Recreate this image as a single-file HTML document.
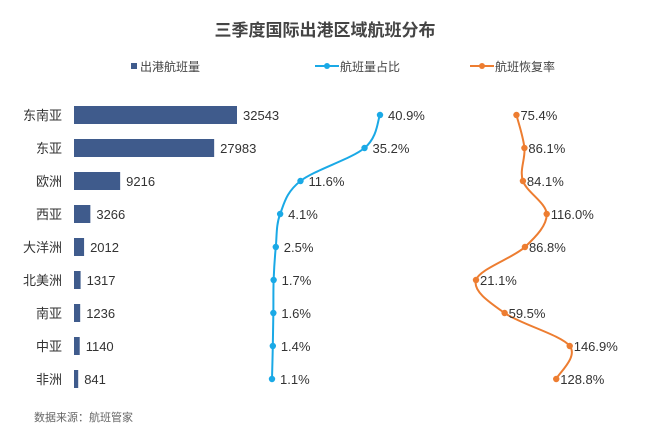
<!DOCTYPE html>
<html><head><meta charset="utf-8"><style>
body{margin:0;background:#fff;}
svg{display:block;font-family:"Liberation Sans","Noto Sans CJK SC",sans-serif;}
</style></head><body>
<svg id="chart" width="650" height="433" viewBox="0 0 650 433">
<text x="325" y="36" text-anchor="middle" font-size="17" font-weight="bold" fill="#444">三季度国际出港区域航班分布</text>
<g>
<rect x="131" y="63" width="6" height="6" fill="#3f5b8c"/>
<text x="140" y="71" font-size="12" fill="#444">出港航班量</text>
<line x1="315" y1="66" x2="339" y2="66" stroke="#1aa9e6" stroke-width="2"/>
<circle cx="327" cy="66" r="3" fill="#1aa9e6"/>
<text x="340" y="71" font-size="12" fill="#444">航班量占比</text>
<line x1="470" y1="66" x2="494" y2="66" stroke="#ed7d31" stroke-width="2"/>
<circle cx="482" cy="66" r="3" fill="#ed7d31"/>
<text x="495" y="71" font-size="12" fill="#444">航班恢复率</text>
</g>
<g id="plot"></g>
<text x="34" y="421" font-size="11" fill="#666">数据来源：航班管家</text>
</svg>
<script>
const categories=["东南亚","东亚","欧洲","西亚","大洋洲","北美洲","南亚","中亚","非洲"];
const flights=[32543,27983,9216,3266,2012,1317,1236,1140,841];
const share=[40.9,35.2,11.6,4.1,2.5,1.7,1.6,1.4,1.1];
const recovery=[75.4,86.1,84.1,116.0,86.8,21.1,59.5,146.9,128.8];
const NS="http://www.w3.org/2000/svg";
const g=document.getElementById('plot');
const yPos=i=>115+i*33;
const xBar=v=>74+v*163/32543;
const xShare=v=>272+(v-1.1)*108/39.8;
const xRec=v=>476+(v-21.1)*0.745;
function mk(t,a){const e=document.createElementNS(NS,t);for(const k in a)e.setAttribute(k,a[k]);g.appendChild(e);return e;}
function smooth(pts){let d=`M${pts[0][0]},${pts[0][1]}`;for(let i=0;i<pts.length-1;i++){const p0=pts[i-1]||pts[i],p1=pts[i],p2=pts[i+1],p3=pts[i+2]||p2;const c1=[p1[0]+(p2[0]-p0[0])/6,p1[1]+(p2[1]-p0[1])/6],c2=[p2[0]-(p3[0]-p1[0])/6,p2[1]-(p3[1]-p1[1])/6];d+=` C${c1[0]},${c1[1]} ${c2[0]},${c2[1]} ${p2[0]},${p2[1]}`;}return d;}
categories.forEach((c,i)=>{
const y=yPos(i);
const t=mk('text',{x:62,y:y+5,'text-anchor':'end','font-size':13,fill:'#333'});t.textContent=c;


const b=mk('rect',{x:74,y:y-9,width:xBar(flights[i])-74,height:18,fill:'#3f5b8c'});


const bl=mk('text',{x:xBar(flights[i])+6,y:y+5,'font-size':13,fill:'#333'});bl.textContent=flights[i];


});
const sp=share.map((v,i)=>[xShare(v),yPos(i)]);
const rp=recovery.map((v,i)=>[xRec(v),yPos(i)]);
const sl=mk('path',{d:smooth(sp),fill:'none',stroke:'#1aa9e6','stroke-width':2});


const rl=mk('path',{d:smooth(rp),fill:'none',stroke:'#ed7d31','stroke-width':2});


sp.forEach((p,i)=>{
const c=mk('circle',{cx:p[0],cy:p[1],r:3.2,fill:'#1aa9e6'});


const t=mk('text',{x:p[0]+8,y:p[1]+5,'font-size':13,fill:'#333'});t.textContent=share[i].toFixed(1)+'%';


});
rp.forEach((p,i)=>{
const c=mk('circle',{cx:p[0],cy:p[1],r:3.2,fill:'#ed7d31'});


const t=mk('text',{x:p[0]+4,y:p[1]+5,'font-size':13,fill:'#333'});t.textContent=recovery[i].toFixed(1)+'%';


});
</script>
</body></html>
